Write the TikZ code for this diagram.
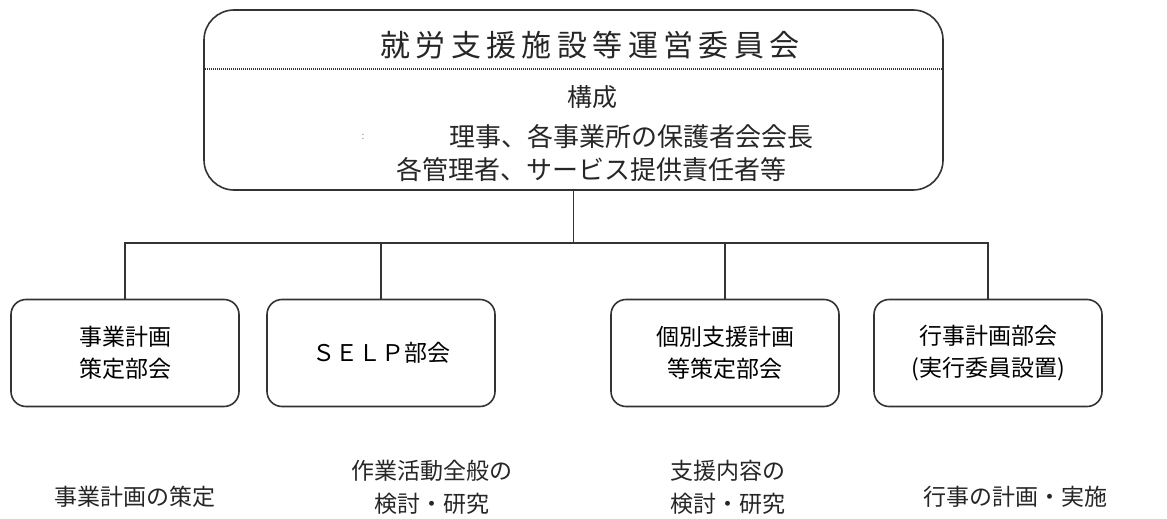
\documentclass[tikz,border=0pt]{standalone}
\usepackage{fontspec}
\setmainfont{Noto Sans CJK JP}
\newfontfamily\titlefont[LetterSpace=18]{Noto Sans CJK JP}
\usetikzlibrary{positioning}
\tikzset{
  board box/.style={draw=black!80,line width=1.6pt,rounded corners=30pt,minimum width=739pt,minimum height=180pt,inner sep=0pt},
  dept box/.style={draw=black!80,line width=1.6pt,rounded corners=15pt,minimum width=228pt,minimum height=107pt,inner sep=0pt,align=center,font=\fontsize{23}{32}\selectfont},
  board text/.style={black!85,font=\fontsize{26}{33}\selectfont},
  task text/.style={black!85,align=center,font=\fontsize{23}{33}\selectfont},
  tree edge/.style={black!80,line width=1.5pt},
}

\begin{document}
\begin{tikzpicture}[x=1pt,y=-1pt]
  \useasboundingbox (0,0) rectangle (1167,519);
  \node[board box] (board) at (573.5,100) {};
  \coordinate (split) at (0,69);
  \draw[black!80,dash pattern=on 1pt off 1pt,line width=1.3pt] (board.west |- split) -- (board.east |- split);
  \node[black!85,font=\titlefont\fontsize{30}{36}\selectfont] (title) at (590,45) {就労支援施設等運営委員会};
  \node[board text,font=\fontsize{25}{30}\selectfont] (members) at (592,97) {構成};
  \node[board text] (line1) at (631,137) {理事、各事業所の保護者会会長};
  \node[board text] (line2) at (591,170) {各管理者、サービス提供責任者等};
  \node[black!45,font=\fontsize{10}{10}\selectfont] (mark) at (363,137) {:};
  \foreach \n/\x/\t in {d1/125/{事業計画\\策定部会},d2/381/{ＳＥＬＰ部会},d3/725/{個別支援計画\\等策定部会},d4/988/{行事計画部会\\(実行委員設置)}}{
    \node[dept box] (\n) at (\x,353) {\t};
  }
  \node[task text] (t1) at (135,497) {事業計画の策定};
  \node[task text] (t2) at (432,487) {作業活動全般の\\検討・研究};
  \node[task text] (t3) at (728,487) {支援内容の\\検討・研究};
  \node[task text] (t4) at (1015,497) {行事の計画・実施};
  \coordinate (bus) at (0,243);
  \draw[tree edge] (board.south) -- (board.south |- bus);
  \draw[tree edge] (d1.north) -- (d1.north |- bus) -- (d4.north |- bus) -- (d4.north);
  \foreach \d in {d2,d3}{
    \draw[tree edge] (\d.north) -- (\d.north |- bus);
  }
\end{tikzpicture}
\end{document}
